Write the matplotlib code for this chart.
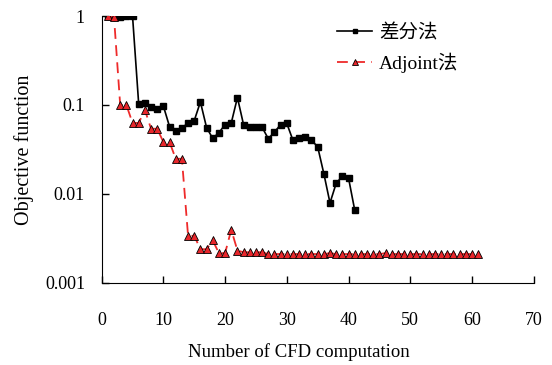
import matplotlib
matplotlib.use("Agg")
import matplotlib.pyplot as plt
from matplotlib.ticker import FixedLocator, NullLocator, FuncFormatter

plt.rcParams['font.family'] = ['Liberation Serif', 'Noto Sans CJK SC']
plt.rcParams['font.size'] = 13

# finite difference run
fd_x = list(range(1, 42))
fd_y = [1.0, 0.98, 0.97, 0.99, 1.0,
        0.102, 0.104, 0.094, 0.091, 0.097,
        0.057, 0.051, 0.0556, 0.062, 0.0666,
        0.108, 0.0556, 0.042, 0.0488, 0.060,
        0.0627, 0.121, 0.0596, 0.0571, 0.056,
        0.056, 0.0417, 0.0496, 0.060, 0.062,
        0.040, 0.0428, 0.044, 0.040, 0.0339,
        0.0169, 0.0079, 0.0131, 0.0158, 0.0151,
        0.0066]

# adjoint run
adj_x = list(range(1, 62))
adj_y = [1.0, 0.97, 0.1, 0.1, 0.0627,
         0.0627, 0.088, 0.054, 0.054, 0.0382,
         0.0382, 0.0248, 0.0248, 0.00337, 0.00337,
         0.00238, 0.00238, 0.00299, 0.00215, 0.00215,
         0.00394, 0.0023, 0.0022, 0.0022, 0.0022,
         0.0022] + [0.0021] * 35
adj_y[36] = 0.00215
adj_y[45] = 0.00215

fig = plt.figure(figsize=(5.52, 3.65), dpi=100)
ax = fig.add_axes([0.1842, 0.2255, 0.7825, 0.7305])

ax.plot(fd_x, fd_y, color='black', lw=1.2, marker='s', markersize=4.2,
        label='差分法', zorder=3)
ax.plot(adj_x, adj_y, color='#ee2a2a', lw=1.3, ls=(0, (6, 3.5)), marker='^',
        markersize=5.2, markerfacecolor='#e8262b', markeredgecolor='black',
        markeredgewidth=0.6, label='Adjoint法', zorder=4)

ax.set_yscale('log')
ax.set_ylim(0.001, 1)
ax.set_xlim(0, 70)
ax.xaxis.set_major_locator(FixedLocator(range(0, 71, 10)))
ax.yaxis.set_major_locator(FixedLocator([0.001, 0.01, 0.1, 1]))
ax.yaxis.set_minor_locator(NullLocator())
ax.yaxis.set_major_formatter(FuncFormatter(lambda v, p: '{:g}'.format(v)))

for s in ['top', 'right']:
    ax.spines[s].set_visible(False)
ax.tick_params(direction='in', length=5, width=1)
ax.tick_params(axis='x', pad=21)
ax.tick_params(axis='y', pad=12)

ax.set_xlabel('Number of CFD computation', fontsize=13.5)
ax.xaxis.set_label_coords(0.457, -0.226)
ax.set_ylabel('Objective function', fontsize=14.5, labelpad=8)

ax.legend(loc='upper left', bbox_to_anchor=(0.545, 0.97), frameon=False,
          fontsize=14, borderpad=0, borderaxespad=0, markerscale=0.75,
          handlelength=1.8, labelspacing=0.55, handletextpad=0.35)

fig.savefig('out.png', dpi=100)
